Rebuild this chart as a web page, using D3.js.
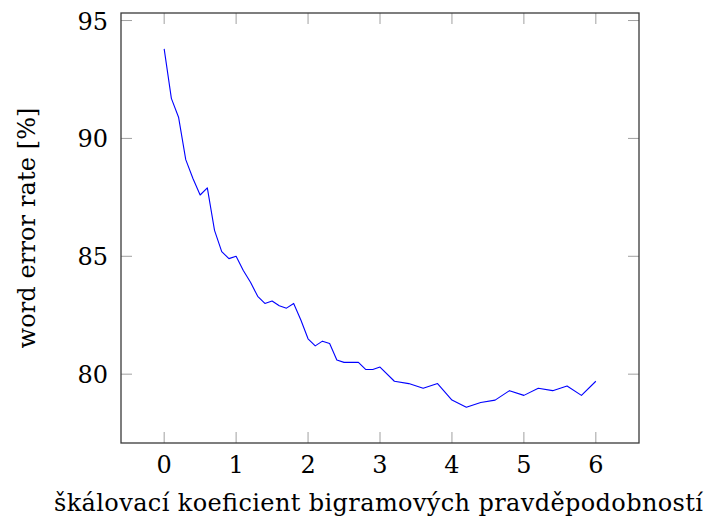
<!DOCTYPE html>
<html>
<head>
<meta charset="utf-8">
<script src="https://cdn.jsdelivr.net/npm/d3@7"></script>
<style>
  body { margin: 0; background: #fff; }
</style>
</head>
<body>
<svg id="chart" width="708" height="518"></svg>
<script>
// scaling factor of bigram probabilities
const scaleFactors = [
  0, 0.1, 0.2, 0.3, 0.4, 0.5, 0.6, 0.7, 0.8, 0.9,
  1.0, 1.1, 1.2, 1.3, 1.4, 1.5, 1.6, 1.7, 1.8, 1.9,
  2.0, 2.1, 2.2, 2.3, 2.4, 2.5, 2.6, 2.7, 2.8, 2.9,
  3.0, 3.2, 3.4, 3.6, 3.8, 4.0, 4.2, 4.4, 4.6, 4.8,
  5.0, 5.2, 5.4, 5.6, 5.8, 6.0,
];
// word error rate [%]
const werValues = [
  93.8, 91.7, 90.9, 89.1, 88.3, 87.6, 87.9, 86.1, 85.2, 84.9,
  85.0, 84.4, 83.9, 83.3, 83.0, 83.1, 82.9, 82.8, 83.0, 82.3,
  81.5, 81.2, 81.4, 81.3, 80.6, 80.5, 80.5, 80.5, 80.2, 80.2,
  80.3, 79.7, 79.6, 79.4, 79.6, 78.9, 78.6, 78.8, 78.9, 79.3,
  79.1, 79.4, 79.3, 79.5, 79.1, 79.7,
];
const xTicks = [0, 1, 2, 3, 4, 5, 6];
const yTicks = [80, 85, 90, 95];

const xLabel = "škálovací koeficient bigramových pravděpodobností";
const yLabel = "word error rate [%]";

const fontFamily = "DejaVu Serif";

const data = scaleFactors.map((x, i) => ({ x: x, y: werValues[i] }));

const svg = d3.select("#chart");
const box = { left: 121, top: 13, right: 639, bottom: 443 };

// pgfplots style: enlarge limits by 10% of the data range
const enlarge = (ext) => {
  const pad = (ext[1] - ext[0]) * 0.1;
  return [ext[0] - pad, ext[1] + pad];
};

const x = d3
  .scaleLinear()
  .domain(enlarge(d3.extent(scaleFactors)))
  .range([box.left, box.right]);

const y = d3
  .scaleLinear()
  .domain(enlarge(d3.extent(werValues)))
  .range([box.bottom, box.top]);

const tickLen = 11;
const tickColor = "#a0a0a0";

// inward ticks on all four sides
const ticks = svg.append("g").attr("stroke", tickColor).attr("stroke-width", 1);
xTicks.forEach((t) => {
  ticks.append("line")
    .attr("x1", x(t)).attr("x2", x(t))
    .attr("y1", box.bottom).attr("y2", box.bottom - tickLen);
  ticks.append("line")
    .attr("x1", x(t)).attr("x2", x(t))
    .attr("y1", box.top).attr("y2", box.top + tickLen);
});
yTicks.forEach((t) => {
  ticks.append("line")
    .attr("x1", box.left).attr("x2", box.left + tickLen)
    .attr("y1", y(t)).attr("y2", y(t));
  ticks.append("line")
    .attr("x1", box.right).attr("x2", box.right - tickLen)
    .attr("y1", y(t)).attr("y2", y(t));
});

// the data line
const line = d3
  .line()
  .x((d) => x(d.x))
  .y((d) => y(d.y));

svg.append("path")
  .datum(data)
  .attr("fill", "none")
  .attr("stroke", "#0000ff")
  .attr("stroke-width", 1.1)
  .attr("stroke-linejoin", "round")
  .attr("d", line);

// frame
svg.append("rect")
  .attr("x", box.left)
  .attr("y", box.top)
  .attr("width", box.right - box.left)
  .attr("height", box.bottom - box.top)
  .attr("fill", "none")
  .attr("stroke", "#3a3a3a")
  .attr("stroke-width", 1.3);

// tick labels
svg.append("g")
  .selectAll("text")
  .data(xTicks)
  .join("text")
  .attr("x", (d) => x(d))
  .attr("y", 473)
  .attr("text-anchor", "middle")
  .attr("font-family", fontFamily)
  .attr("font-size", 24)
  .text((d) => d);

svg.append("g")
  .selectAll("text")
  .data(yTicks)
  .join("text")
  .attr("x", 108)
  .attr("y", (d) => y(d) + 9)
  .attr("text-anchor", "end")
  .attr("font-family", fontFamily)
  .attr("font-size", 24)
  .text((d) => d);

// axis labels
svg.append("text")
  .attr("x", (box.left + box.right) / 2 - 1.5)
  .attr("y", 511)
  .attr("text-anchor", "middle")
  .attr("textLength", 649)
  .attr("lengthAdjust", "spacing")
  .attr("font-family", fontFamily)
  .attr("font-size", 24)
  .text(xLabel);

svg.append("text")
  .attr("transform", `translate(35,${(box.top + box.bottom) / 2}) rotate(-90)`)
  .attr("text-anchor", "middle")
  .attr("textLength", 241)
  .attr("lengthAdjust", "spacing")
  .attr("font-family", fontFamily)
  .attr("font-size", 24)
  .text(yLabel);
</script>
</body>
</html>
